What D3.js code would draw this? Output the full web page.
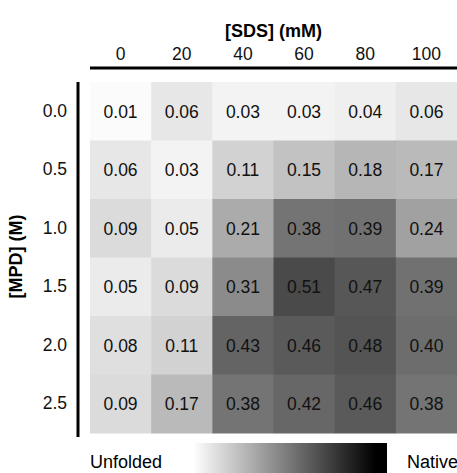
<!DOCTYPE html>
<html>
<head>
<meta charset="utf-8">
<script src="https://cdn.jsdelivr.net/npm/d3@7"></script>
<style>
  body { margin: 0; background: #fff; }
  svg { display: block; font-family: "Liberation Sans", Arial, sans-serif; }
  .axis text { font-size: 17.5px; fill: #111; }
  .cell-label { font-size: 17.5px; fill: #111; }
</style>
</head>
<body>
<script>
const sds = ['0', '20', '40', '60', '80', '100'];
const mpd = ['0.0', '0.5', '1.0', '1.5', '2.0', '2.5'];

// fraction native, one row per [MPD]
const row00 = [0.01, 0.06, 0.03, 0.03, 0.04, 0.06];
const row05 = [0.06, 0.03, 0.11, 0.15, 0.18, 0.17];
const row10 = [0.09, 0.05, 0.21, 0.38, 0.39, 0.24];
const row15 = [0.05, 0.09, 0.31, 0.51, 0.47, 0.39];
const row20 = [0.08, 0.11, 0.43, 0.46, 0.48, 0.40];
const row25 = [0.09, 0.17, 0.38, 0.42, 0.46, 0.38];

const rows = [row00, row05, row10, row15, row20, row25];

const margin = { top: 82, right: 0, bottom: 40, left: 90 };
const W = 457, H = 473;
const width = W - margin.left - margin.right;
const height = H - margin.top - margin.bottom;

const svg = d3.select('body').append('svg')
  .attr('width', W)
  .attr('height', H);

const g = svg.append('g')
  .attr('transform', `translate(${margin.left},${margin.top})`);

const x = d3.scaleBand().domain(sds).range([0, width]);
const y = d3.scaleBand().domain(mpd).range([0, height]);

const shade = d3.scaleLinear()
  .domain([0, 0.2, 0.51])
  .range([255, 174, 74]);

const cells = [];
rows.forEach((r, i) => {
  r.forEach((v, j) => cells.push({ row: mpd[i], col: sds[j], v: v }));
});

g.selectAll('.cell')
  .data(cells)
  .enter()
  .append('rect')
  .attr('class', 'cell')
  .attr('x', d => x(d.col))
  .attr('y', d => y(d.row))
  .attr('width', x.bandwidth() + 0.5)
  .attr('height', y.bandwidth() + 0.5)
  .attr('fill', d => { const c = Math.round(shade(d.v)); return `rgb(${c},${c},${c})`; });

g.selectAll('.cell-label')
  .data(cells)
  .enter()
  .append('text')
  .attr('class', 'cell-label')
  .attr('x', d => x(d.col) + x.bandwidth() / 2)
  .attr('y', d => y(d.row) + y.bandwidth() / 2 + 6.5)
  .attr('text-anchor', 'middle')
  .text(d => d.v.toFixed(2));

// top axis
const xAxis = g.append('g')
  .attr('class', 'axis')
  .attr('transform', 'translate(0,-14)')
  .call(d3.axisTop(x).tickSize(0).tickPadding(8));
xAxis.select('.domain').attr('stroke', '#000').attr('stroke-width', 3).attr('d', `M0,0H${width}`);

// left axis
const yAxis = g.append('g')
  .attr('class', 'axis')
  .attr('transform', 'translate(-12,0)')
  .call(d3.axisLeft(y).tickSize(0).tickPadding(11));
yAxis.select('.domain').attr('stroke', '#000').attr('stroke-width', 3).attr('d', `M0,0V${height + 4}`);

svg.append('text')
  .attr('x', margin.left + width / 2)
  .attr('y', 37)
  .attr('text-anchor', 'middle')
  .style('font-size', '18px')
  .style('font-weight', 'bold')
  .text('[SDS] (mM)');

svg.append('text')
  .attr('transform', `translate(22,${margin.top + height / 2 - 1}) rotate(-90)`)
  .attr('text-anchor', 'middle')
  .style('font-size', '18px')
  .style('font-weight', 'bold')
  .text('[MPD] (M)');

// legend
const defs = svg.append('defs');
const grad = defs.append('linearGradient').attr('id', 'fold');
grad.append('stop').attr('offset', '0%').attr('stop-color', '#fff');
grad.append('stop').attr('offset', '94%').attr('stop-color', '#000');
grad.append('stop').attr('offset', '100%').attr('stop-color', '#000');

svg.append('rect')
  .attr('x', 193)
  .attr('y', 443)
  .attr('width', 194)
  .attr('height', 30)
  .attr('fill', 'url(#fold)');

svg.append('text')
  .attr('x', 90)
  .attr('y', 468)
  .style('font-size', '18px')
  .text('Unfolded');

svg.append('text')
  .attr('x', 407)
  .attr('y', 468)
  .style('font-size', '18px')
  .text('Native');
</script>
</body>
</html>
